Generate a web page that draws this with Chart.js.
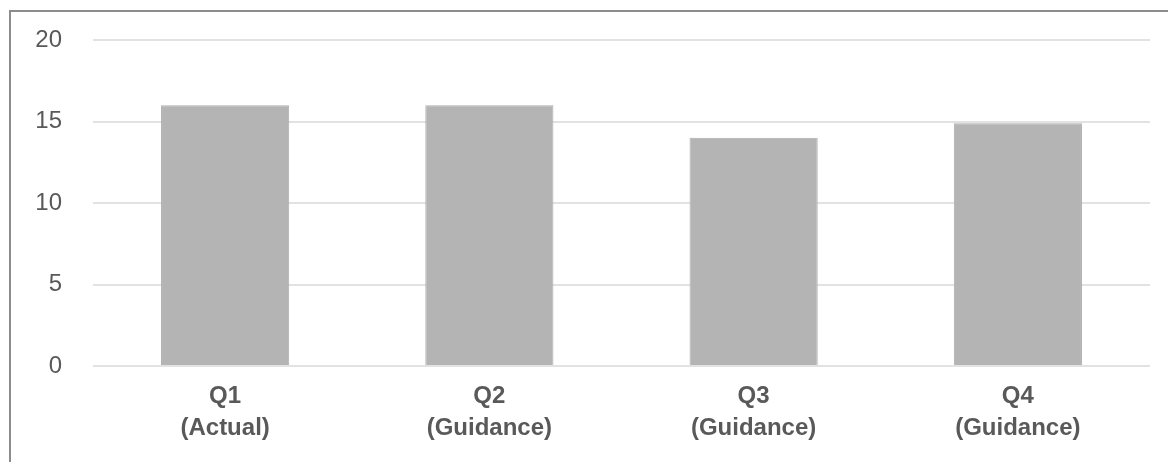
<!DOCTYPE html>
<html>
<head>
<meta charset="utf-8">
<script src="https://cdn.jsdelivr.net/npm/chart.js@4/dist/chart.umd.min.js"></script>
<style>
    html, body { margin: 0; padding: 0; background: #fff; }
    #wrap { position: relative; width: 1168px; height: 462px; overflow: hidden; }
    #frame {
        position: absolute; left: 9px; top: 10px; right: -10px; bottom: -10px;
        border-left: 2px solid #8c8c8c; border-top: 2px solid #8c8c8c;
        pointer-events: none;
    }
    canvas { position: absolute; left: 0; top: 0; }
</style>
</head>
<body>
<div id="wrap">
    <canvas id="grafico" width="1168" height="462"></canvas>
    <div id="frame"></div>
</div>
<script>
// Dados
const trimestres = [['Q1', '(Actual)'], ['Q2', '(Guidance)'], ['Q3', '(Guidance)'], ['Q4', '(Guidance)']];
const valores = [16, 16, 14, 14.9];
const ticksY = [0, 5, 10, 15, 20];

const corTexto = '#595959';
const fonte = 'Liberation Sans, Arial, sans-serif';

const ctx = document.getElementById('grafico').getContext('2d');
new Chart(ctx, {
    type: 'bar',
    data: {
        labels: trimestres,
        datasets: [{
            data: valores,
            backgroundColor: '#b4b4b4',
            borderColor: '#acacac',
            borderWidth: 1,
            barPercentage: 0.485,
            categoryPercentage: 1
        }]
    },
    options: {
        responsive: false,
        animation: false,
        layout: { padding: { top: 40, right: 18, left: 0, bottom: 0 } },
        plugins: {
            legend: { display: false },
            tooltip: { enabled: false }
        },
        scales: {
            x: {
                grid: { display: false },
                border: { display: false },
                ticks: {
                    color: corTexto,
                    font: { family: fonte, size: 24, weight: 'bold', lineHeight: 1.33 },
                    padding: 6,
                    maxRotation: 0
                },
                afterFit: (escala) => { escala.height = 96; }
            },
            y: {
                min: 0,
                max: 20,
                afterBuildTicks: (escala) => { escala.ticks = ticksY.map(v => ({ value: v })); },
                grid: { color: '#e2e2e2', lineWidth: 2, drawTicks: false },
                border: { display: false },
                ticks: {
                    color: corTexto,
                    font: { family: fonte, size: 24 },
                    padding: 31
                },
                afterFit: (escala) => {
                    escala.width = 93;
                    escala.paddingTop = 0;
                    escala.paddingBottom = 0;
                }
            }
        }
    }
});
</script>
</body>
</html>
